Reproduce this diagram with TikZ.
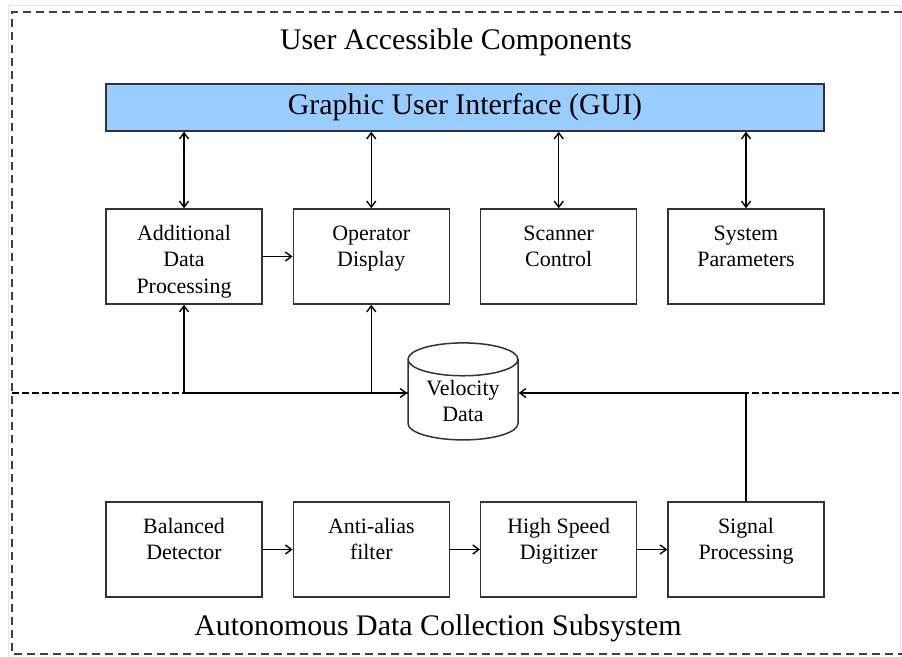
\documentclass[tikz,border=0pt]{standalone}
\usepackage{fontspec}
\setmainfont{Liberation Serif}
\usetikzlibrary{shapes.geometric,arrows.meta}
\definecolor{guiblue}{RGB}{153,204,255}
\newcommand{\stk}[1]{\begin{tabular}[t]{@{}c@{}}#1\end{tabular}}
\tikzset{
  blk/.style={draw=black!80, line width=1.5bp, minimum width=156bp, inner sep=0pt,
    text height=31bp, text depth=64bp, font=\fontsize{22}{27}\selectfont},
  frame/.style={black!75, line width=1.4bp, dash pattern=on 8bp off 5bp},
}
\begin{document}
\begin{tikzpicture}[x=1bp,y=-1bp,>={Straight Barb[length=6bp,width=9bp]},line width=1.4bp]
	\useasboundingbox (0,0) rectangle (902,657);
	\draw[gray!20,line width=1bp] (8,657) -- (8,6) -- (900,6) -- (900,657);
	\draw[frame] (902,12) -- (12,12) -- (12,654) -- (902,654);
	\coordinate (bus) at (12,393);
	\draw[line width=2.6bp, dash pattern=on 7bp off 3bp] (bus) -- (902,393);
	% titles
	\node[font=\fontsize{30}{36}\selectfont] (top) at (456,42) {User Accessible Components};
	\node[font=\fontsize{30}{36}\selectfont] (bot) at (438,628) {Autonomous Data Collection Subsystem};
	\node[draw=black!80, line width=1.5bp, fill=guiblue, minimum width=718bp, minimum height=47bp,
		font=\fontsize{30}{36}\selectfont] (gui) at (465,107.5) {Graphic User Interface (GUI)};
	% upper row
	\node[blk] (adp) at (184,256.5) {\stk{Additional\\Data\\Processing}};
	\node[blk] (op) at (371.3,256.5) {\stk{Operator\\Display}};
	\node[blk] (sc) at (558.7,256.5) {\stk{Scanner\\Control}};
	\node[blk] (sp) at (746,256.5) {\stk{System\\Parameters}};
	% lower row
	\node[blk] (bd) at (184,549.5) {\stk{Balanced\\Detector}};
	\node[blk] (aa) at (371.3,549.5) {\stk{Anti-alias\\filter}};
	\node[blk] (hs) at (558.7,549.5) {\stk{High Speed\\Digitizer}};
	\node[blk] (sig) at (746,549.5) {\stk{Signal\\Processing}};
	% data store
	\node[cylinder, shape border rotate=90, draw=black!80, line width=1.5bp, fill=white, aspect=0.45,
		minimum width=110bp, minimum height=97bp, inner sep=0pt, text height=10bp, text depth=20bp,
		font=\fontsize{22}{27}\selectfont] (velo) at (463,400) {\stk{Velocity\\Data}};
	\foreach \n in {adp,op,sc,sp}
		\draw[<->] (gui.south -| \n.north) -- (\n.north);
	\draw[->] (adp) -- (op);
	\draw[->] (bd) -- (aa);
	\draw[->] (aa) -- (hs);
	\draw[->] (hs) -- (sig);
	\draw[->] (adp.south |- bus) -- (velo.west |- bus);
	\draw[->] (adp.south |- bus) -- (adp.south);
	\draw[->] (op.south |- bus) -- (op.south);
	\draw[->] (sig.north) |- (velo.east |- bus);
\end{tikzpicture}
\end{document}
